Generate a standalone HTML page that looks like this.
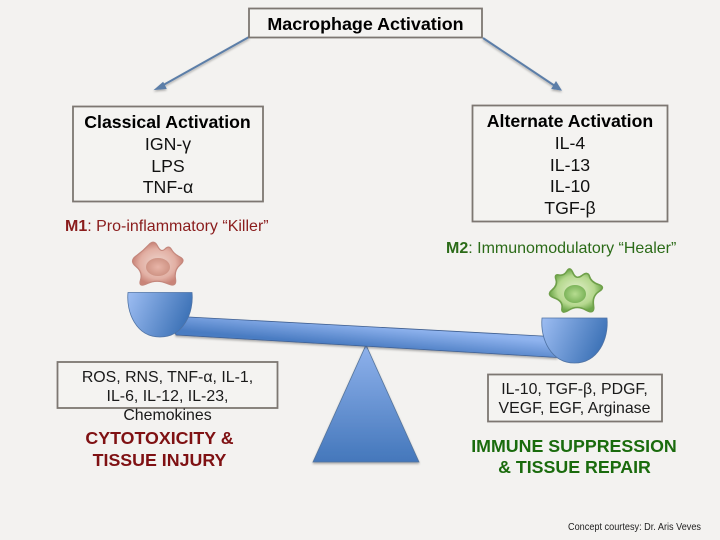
<!DOCTYPE html>
<html><head><meta charset="utf-8"><style>
html,body{margin:0;padding:0;background:#f3f2f0}
svg{display:block}
text{font-family:"Liberation Sans",sans-serif}
</style></head><body>
<svg width="720" height="540" viewBox="0 0 720 540" xmlns="http://www.w3.org/2000/svg">
<defs>
<linearGradient id="tri" x1="0" y1="0" x2="0" y2="1"><stop offset="0" stop-color="#8fb2ec"/><stop offset="1" stop-color="#4477bb"/></linearGradient>
<linearGradient id="bar" gradientUnits="userSpaceOnUse" x1="366" y1="325" x2="364" y2="347"><stop offset="0" stop-color="#8fb3ee"/><stop offset="1" stop-color="#4a7cc2"/></linearGradient>
<linearGradient id="cup" x1="0" y1="0" x2="1" y2="0.3"><stop offset="0" stop-color="#9dbdf2"/><stop offset="1" stop-color="#3f74b8"/></linearGradient>
<radialGradient id="red"><stop offset="0" stop-color="#eed6ce"/><stop offset="0.7" stop-color="#e2b0a4"/><stop offset="1" stop-color="#c98478"/></radialGradient>
<radialGradient id="redn"><stop offset="0" stop-color="#e8b5a8"/><stop offset="1" stop-color="#cf9485"/></radialGradient>
<radialGradient id="grn"><stop offset="0" stop-color="#e4f0cc"/><stop offset="0.7" stop-color="#b5d88e"/><stop offset="1" stop-color="#6fa84c"/></radialGradient>
<radialGradient id="grnn"><stop offset="0" stop-color="#b6dc90"/><stop offset="1" stop-color="#7cb45a"/></radialGradient>
<filter id="sh" x="-10%" y="-20%" width="120%" height="150%"><feDropShadow dx="0" dy="1.500" stdDeviation="1" flood-color="#000" flood-opacity="0.3"/></filter>
</defs>
<rect width="720" height="540" fill="#f3f2f0"/>

<!-- arrows -->
<g filter="url(#sh)">
<path d="M249 37 L158 88" stroke="#5b7ea8" stroke-width="2" fill="none"/>
<path d="M155 89.500 L163 82.500 L166 88.500 Z" fill="#5b7ea8" stroke="#5b7ea8" stroke-width="1"/>
<path d="M483 38 L558 88" stroke="#5b7ea8" stroke-width="2" fill="none"/>
<path d="M561 90 L552 88.500 L556 82 Z" fill="#5b7ea8" stroke="#5b7ea8" stroke-width="1"/>
</g>

<!-- boxes -->
<g fill="#f4f3f1" stroke="#7d7772" stroke-width="1.800">
<rect x="249" y="8.500" width="233" height="29"/>
<rect x="73" y="106.500" width="190" height="95"/>
<rect x="472.500" y="105.500" width="195" height="116"/>
<rect x="57.500" y="362" width="220" height="46"/>
<rect x="488" y="374.500" width="174" height="47"/>
</g>

<text x="365.500" y="30" font-size="17.900" font-weight="bold" text-anchor="middle" fill="#000">Macrophage Activation</text>

<g font-size="17.700" text-anchor="middle" fill="#111">
<text x="167.500" y="128" font-weight="bold" fill="#000">Classical Activation</text>
<text x="168" y="150">IGN-γ</text>
<text x="168" y="172">LPS</text>
<text x="168" y="193">TNF-α</text>
<text x="570" y="127" font-weight="bold" fill="#000">Alternate Activation</text>
<text x="570" y="149">IL-4</text>
<text x="570" y="171">IL-13</text>
<text x="570" y="192">IL-10</text>
<text x="570" y="214">TGF-β</text>
</g>

<text x="65" y="231" font-size="16" fill="#8a1c1c"><tspan font-weight="bold">M1</tspan>: Pro-inflammatory “Killer”</text>
<text x="446" y="253" font-size="16" fill="#2b6b18"><tspan font-weight="bold">M2</tspan>: Immunomodulatory “Healer”</text>

<!-- triangle -->
<path d="M366 345 L419 462 L313 462 Z" fill="url(#tri)" stroke="#54749c" stroke-width="0.8" filter="url(#sh)"/>
<!-- bar -->
<path d="M170 316 L560 337 L557 357.500 L176 335 Z" fill="url(#bar)" stroke="#3f5f90" stroke-width="0.8" filter="url(#sh)"/>
<!-- cups -->
<path d="M128 292.500 H192 C194 312 184 337 160 337 C136 337 126 312 128 292.500 Z" fill="url(#cup)" stroke="#4f73a5" stroke-width="0.8"/>
<path d="M542 318 H607 C609 339 598 363 574.500 363 C551 363 540 339 542 318 Z" fill="url(#cup)" stroke="#4f73a5" stroke-width="0.8"/>

<!-- cells -->
<path d="M148.500 245 Q154 239 157.500 246 Q161 253 165 249 Q169 245 171.500 249.500 Q174 254 180 257 Q186 260 180 265 Q174 270 175.500 279 Q177 288 167 283.500 Q157 279 147.500 283.500 Q138 288 140.500 280 Q143 272 136 266.500 Q129 261 136 256 Q143 251 148.500 245 Z" fill="url(#red)" stroke="#c4877c" stroke-width="1.200"/>
<ellipse cx="158" cy="267" rx="12" ry="9" fill="url(#redn)"/>
<path d="M567 271 Q570 266 573 273 Q576 280 582 275.500 Q588 271 589.500 276.500 Q591 282 598.500 284.500 Q606 287 599 291.500 Q592 296 593.500 305.500 Q595 315 586 310 Q577 305 569 310 Q561 315 562 308 Q563 301 554.500 298 Q546 295 552 290 Q558 285 556 279.500 Q554 274 559 275 Q564 276 567 271 Z" fill="url(#grn)" stroke="#6fa04a" stroke-width="1.600"/>
<ellipse cx="575" cy="294" rx="11" ry="9" fill="url(#grnn)"/>

<g font-size="15.900" text-anchor="middle" fill="#1a1a1a">
<text x="167.500" y="382">ROS, RNS, TNF-α, IL-1,</text>
<text x="167.500" y="401">IL-6, IL-12, IL-23,</text>
<text x="167.500" y="420">Chemokines</text>
<text x="574.500" y="394">IL-10, TGF-β, PDGF,</text>
<text x="574.500" y="413">VEGF, EGF, Arginase</text>
</g>

<g font-size="17.800" font-weight="bold" text-anchor="middle">
<text x="159.500" y="444" fill="#7f1113">CYTOTOXICITY &amp;</text>
<text x="159.500" y="466" fill="#7f1113">TISSUE INJURY</text>
<text x="574" y="452" fill="#1a6b0d">IMMUNE SUPPRESSION</text>
<text x="574.500" y="473" fill="#1a6b0d">&amp; TISSUE REPAIR</text>
</g>

<text x="568" y="530" font-size="10" textLength="133" lengthAdjust="spacingAndGlyphs" fill="#222">Concept courtesy: Dr. Aris Veves</text>
</svg>
</body></html>
